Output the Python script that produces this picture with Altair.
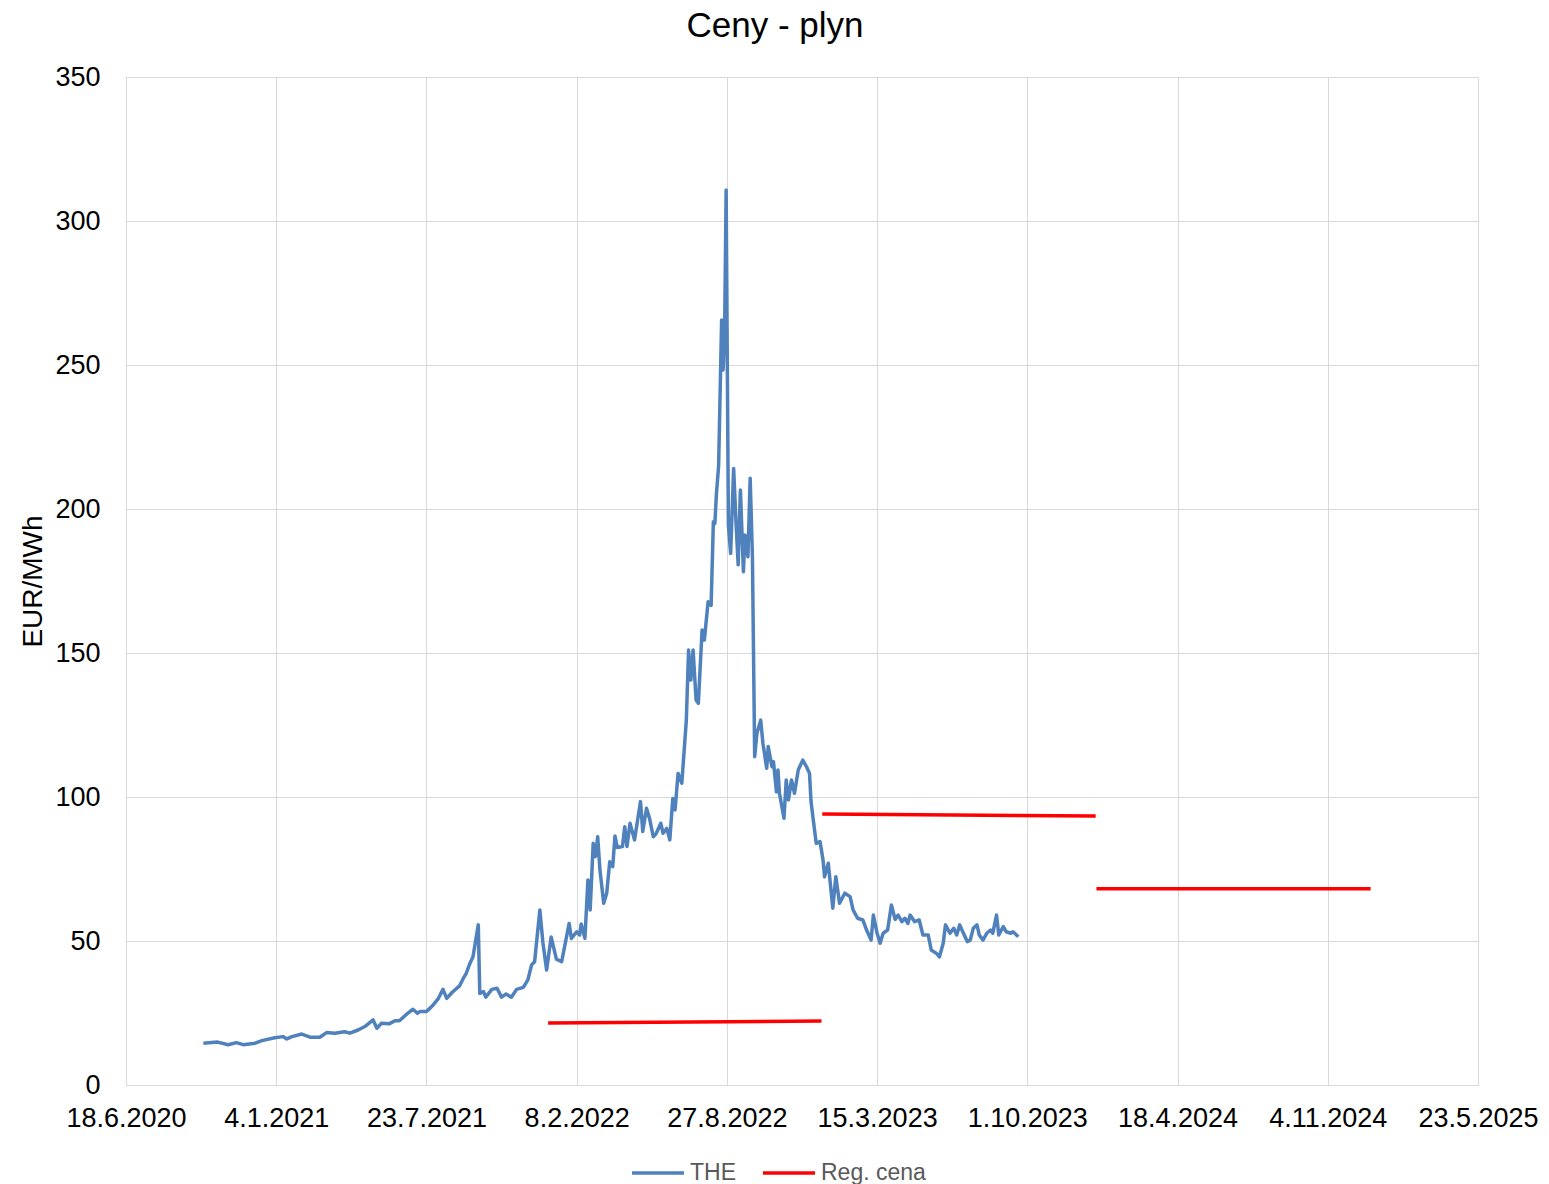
import altair as alt
import pandas as pd

# ---- THE daily gas price (EUR/MWh) ----
the_dates = [
    "2020-09-29", "2020-10-18", "2020-11-01", "2020-11-12", "2020-11-21", "2020-12-07", "2020-12-16",
    "2021-01-02", "2021-01-13", "2021-01-18", "2021-01-25", "2021-02-07", "2021-02-18", "2021-03-03",
    "2021-03-12", "2021-03-23", "2021-04-05", "2021-04-12", "2021-04-23", "2021-05-02", "2021-05-13",
    "2021-05-18", "2021-05-24", "2021-06-04", "2021-06-11", "2021-06-17", "2021-06-28", "2021-07-05",
    "2021-07-11", "2021-07-14", "2021-07-23", "2021-07-25", "2021-08-01", "2021-08-08", "2021-08-14",
    "2021-08-19", "2021-08-26", "2021-09-05", "2021-09-10", "2021-09-14", "2021-09-19", "2021-09-23",
    "2021-09-30", "2021-10-02", "2021-10-07", "2021-10-10", "2021-10-18", "2021-10-25", "2021-10-31",
    "2021-11-06", "2021-11-13", "2021-11-20", "2021-11-29", "2021-12-05", "2021-12-10", "2021-12-14",
    "2021-12-21", "2021-12-25", "2021-12-30", "2022-01-05", "2022-01-12", "2022-01-19", "2022-01-29",
    "2022-02-01", "2022-02-08", "2022-02-12", "2022-02-14", "2022-02-19", "2022-02-23", "2022-02-26",
    "2022-03-02", "2022-03-05", "2022-03-08", "2022-03-11", "2022-03-16", "2022-03-20", "2022-03-24",
    "2022-03-28", "2022-03-31", "2022-04-03", "2022-04-10", "2022-04-13", "2022-04-16", "2022-04-20",
    "2022-04-26", "2022-05-04", "2022-05-07", "2022-05-12", "2022-05-16", "2022-05-21", "2022-05-25",
    "2022-05-31", "2022-06-03", "2022-06-08", "2022-06-12", "2022-06-16", "2022-06-19", "2022-06-23",
    "2022-06-28", "2022-07-04", "2022-07-07", "2022-07-10", "2022-07-13", "2022-07-17", "2022-07-20",
    "2022-07-25", "2022-07-28", "2022-08-02", "2022-08-06", "2022-08-09", "2022-08-11", "2022-08-13",
    "2022-08-16", "2022-08-20", "2022-08-22", "2022-08-24", "2022-08-26", "2022-08-29", "2022-09-01",
    "2022-09-05", "2022-09-08", "2022-09-11", "2022-09-14", "2022-09-18", "2022-09-20", "2022-09-24",
    "2022-09-27", "2022-09-30", "2022-10-03", "2022-10-06", "2022-10-11", "2022-10-14", "2022-10-19",
    "2022-10-21", "2022-10-26", "2022-10-28", "2022-11-01", "2022-11-03", "2022-11-05", "2022-11-11",
    "2022-11-14", "2022-11-17", "2022-11-21", "2022-11-25", "2022-11-30", "2022-12-06", "2022-12-11",
    "2022-12-15", "2022-12-17", "2022-12-20", "2022-12-24", "2022-12-29", "2023-01-02", "2023-01-04",
    "2023-01-09", "2023-01-15", "2023-01-19", "2023-01-24", "2023-01-31", "2023-02-07", "2023-02-11",
    "2023-02-17", "2023-02-24", "2023-03-01", "2023-03-07", "2023-03-10", "2023-03-15", "2023-03-19",
    "2023-03-23", "2023-03-29", "2023-04-03", "2023-04-08", "2023-04-12", "2023-04-17", "2023-04-21",
    "2023-04-25", "2023-04-28", "2023-05-04", "2023-05-10", "2023-05-15", "2023-05-22", "2023-05-26",
    "2023-06-02", "2023-06-06", "2023-06-11", "2023-06-14", "2023-06-20", "2023-06-25", "2023-06-29",
    "2023-07-03", "2023-07-07", "2023-07-13", "2023-07-17", "2023-07-21", "2023-07-26", "2023-07-29",
    "2023-08-03", "2023-08-08", "2023-08-13", "2023-08-16", "2023-08-21", "2023-08-24", "2023-08-30",
    "2023-09-03", "2023-09-09", "2023-09-12", "2023-09-19",
]
the_values = [
    14.5, 14.9, 14.0, 14.7, 14.0, 14.5, 15.4,
    16.4, 16.8, 16.0, 16.8, 17.7, 16.6, 16.6,
    18.2, 18.0, 18.5, 18.0, 19.1, 20.3, 22.6,
    19.7, 21.4, 21.3, 22.3, 22.3, 24.9, 26.3,
    24.9, 25.5, 25.5, 26.0, 27.8, 30.1, 33.2,
    30.1, 32.1, 34.4, 37.0, 38.8, 42.3, 44.5,
    55.6, 31.8, 32.4, 30.5, 33.2, 33.6, 30.5,
    31.6, 30.5, 33.2, 33.9, 36.5, 41.7, 42.8,
    60.8, 49.5, 39.9, 51.4, 43.7, 42.8, 56.1,
    50.9, 53.2, 52.1, 55.9, 50.9, 71.2, 60.8,
    83.9, 79.3, 86.2, 74.7, 63.1, 66.6, 77.5,
    75.8, 86.5, 82.5, 82.8, 89.7, 82.8, 90.9,
    85.1, 98.4, 88.0, 96.1, 92.6, 86.2, 87.4,
    90.9, 87.4, 89.1, 85.1, 99.5, 95.5, 108.2,
    104.8, 126.7, 151.0, 140.6, 151.0, 133.7, 132.5,
    158.0, 154.5, 167.8, 166.5, 195.6, 195.0, 205.0,
    215.0, 265.6, 248.3, 262.0, 310.8, 194.4, 184.6,
    214.1, 196.2, 180.6, 206.6, 178.2, 191.0, 183.4,
    210.7, 183.4, 114.0, 122.1, 126.7, 118.6, 110.0,
    117.5, 110.5, 112.3, 101.8, 109.4, 101.3, 92.6,
    105.9, 99.0, 105.9, 101.3, 109.4, 112.8, 110.5,
    108.2, 98.5, 92.0, 83.9, 84.5, 78.1, 72.3,
    77.0, 61.4, 72.3, 63.1, 66.6, 65.4, 60.8,
    57.9, 57.3, 53.8, 50.3, 59.0, 52.7, 49.2,
    52.7, 53.8, 62.5, 57.5, 59.0, 56.7, 57.9,
    56.1, 59.0, 56.7, 57.3, 52.1, 52.1, 46.9,
    45.7, 44.5, 49.2, 55.6, 52.7, 54.4, 52.1,
    55.6, 53.2, 49.8, 50.3, 54.4, 55.6, 52.1,
    50.3, 52.7, 53.8, 52.7, 59.0, 52.1, 55.0,
    53.2, 52.7, 53.2, 51.5,
]

# ---- Regulated price (one flat segment per year) ----
reg_start_dates = ["2022-01-01", "2023-01-01", "2024-01-01"]
reg_end_dates = ["2022-12-31", "2023-12-31", "2024-12-31"]
reg_start_values = [21.5, 94.1, 68.1]
reg_end_values = [22.2, 93.4, 68.1]

series_names = ["THE", "Reg. cena"]
series_colors = ["#4f81bd", "#ff0000"]

y_ticks = [0, 50, 100, 150, 200, 250, 300, 350]
x_tick_dates = [(2020, 6, 18), (2021, 1, 4), (2021, 7, 23), (2022, 2, 8), (2022, 8, 27),
                (2023, 3, 15), (2023, 10, 1), (2024, 4, 18), (2024, 11, 4), (2025, 5, 23)]

rows = []
for d, v in zip(the_dates, the_values):
    rows.append({"date": d, "value": v, "series": "THE", "seg": "THE"})
for i, (s, e, sv, ev) in enumerate(zip(reg_start_dates, reg_end_dates, reg_start_values, reg_end_values)):
    rows.append({"date": s, "value": sv, "series": "Reg. cena", "seg": f"reg{i}"})
    rows.append({"date": e, "value": ev, "series": "Reg. cena", "seg": f"reg{i}"})
df = pd.DataFrame(rows)

def dt(t):
    return alt.DateTime(year=t[0], month=t[1], date=t[2], utc=True)

x_values = [dt(t) for t in x_tick_dates]

FONT = "Liberation Sans"
GRID = "#d9d9d9"

chart = alt.Chart(df).mark_line(strokeWidth=3.5, strokeJoin="round").encode(
    x=alt.X(
        "date:T",
        scale=alt.Scale(type="utc", domain=[x_values[0], x_values[-1]]),
        axis=alt.Axis(
            values=x_values,
            labelExpr="utcFormat(datum.value, '%-d.%-m.%Y')",
            title=None,
            ticks=False,
            tickSize=0,
            labelPadding=20,
            labelFontSize=27,
            labelColor="black",
            labelFont=FONT,
            labelFlush=False,
            labelOverlap=False,
            grid=True,
            gridColor=GRID,
            gridWidth=1,
            domainColor=GRID,
            domainWidth=1,
        ),
    ),
    y=alt.Y(
        "value:Q",
        scale=alt.Scale(domain=[0, 350], nice=False, zero=True),
        axis=alt.Axis(
            values=y_ticks,
            title="EUR/MWh",
            titleFontSize=28,
            titleFont=FONT,
            titleFontWeight="normal",
            titleColor="black",
            titleAngle=270,
            titleAlign="center",
            titleBaseline="alphabetic",
            titleX=-85,
            titleY=504,
            ticks=False,
            tickSize=0,
            labelPadding=26,
            labelFontSize=27,
            labelColor="black",
            labelFont=FONT,
            labelFlush=False,
            grid=True,
            gridColor=GRID,
            gridWidth=1,
            domainColor=GRID,
            domainWidth=1,
        ),
    ),
    color=alt.Color(
        "series:N",
        scale=alt.Scale(domain=series_names, range=series_colors),
        legend=alt.Legend(
            orient="none",
            legendX=504,
            legendY=1068,
            direction="horizontal",
            title=None,
            symbolType="stroke",
            symbolSize=2704,
            symbolStrokeWidth=3.5,
            labelFontSize=23,
            labelFont=FONT,
            labelColor="#595959",
            labelOffset=4,
            columnPadding=20,
            padding=0,
        ),
    ),
    detail="seg:N",
    order=alt.Order("date:T"),
).properties(
    width=1352,
    height=1008,
    autosize=alt.AutoSizeParams(type="none"),
    padding={"left": 118, "top": 69, "right": 63, "bottom": 110},
    title=alt.Title(
        "Ceny - plyn",
        fontSize=35,
        font=FONT,
        fontWeight="normal",
        color="black",
        anchor="middle",
        frame="group",
        dx=-27,
        dy=-15,
    ),
).configure_view(
    stroke=None
).configure(
    font=FONT
)

chart.save("out.html", embed_options={"renderer": "svg", "actions": False})
